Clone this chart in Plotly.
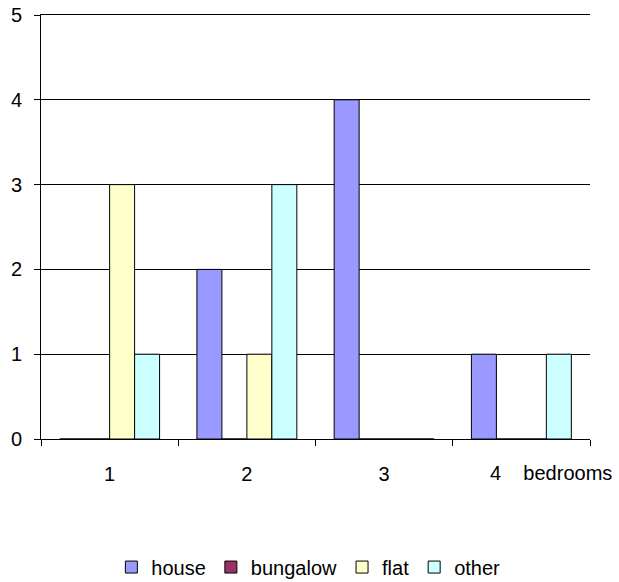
import plotly.graph_objects as go

categories = ["1", "2", "3", "4"]
axis_title = "bedrooms"
house = [0, 2, 4, 1]
bungalow = [0, 0, 0, 0]
flat = [3, 1, 0, 0]
other = [1, 3, 0, 1]
y_ticks = [0, 1, 2, 3, 4, 5]

series = [
    ("house", house, "#9999FF"),
    ("bungalow", bungalow, "#993366"),
    ("flat", flat, "#FFFFCC"),
    ("other", other, "#CCFFFF"),
]

FONT = dict(family="Liberation Sans, Arial, sans-serif", size=20, color="black")

fig = go.Figure()
for name, vals, col in series:
    fig.add_trace(go.Bar(
        name=name, x=categories, y=vals,
        marker=dict(color=col, line=dict(color="black", width=1)),
    ))

fig.update_layout(
    width=619, height=582,
    margin=dict(l=41, r=29, t=15, b=143, autoexpand=False),
    paper_bgcolor="white", plot_bgcolor="white",
    font=FONT,
    barmode="group", bargap=0.272, bargroupgap=0,
    showlegend=True,
    legend=dict(orientation="h", x=0.487, xanchor="center", y=-0.302, yanchor="middle",
                font=FONT, itemwidth=30, tracegroupgap=0, itemclick=False),
)
fig.update_xaxes(
    type="category", tickmode="array", tickvals=categories,
    ticktext=categories[:-1] + [""],
    tickson="boundaries", ticks="outside", ticklen=6, tickcolor="black", tickwidth=1,
    showline=True, mirror=True, linecolor="black", linewidth=1, showgrid=False,
    ticklabelstandoff=17,
)
fig.update_yaxes(
    range=[0, 5], tickvals=y_ticks,
    ticks="outside", ticklen=6, tickcolor="black", tickwidth=1,
    showline=True, linecolor="black", linewidth=1,
    showgrid=True, gridcolor="black", gridwidth=1, zeroline=False,
    ticklabelstandoff=8, ticklabeloverflow="allow",
)
fig.add_annotation(
    text=categories[-1] + "&nbsp;&nbsp;&nbsp;&nbsp;" + axis_title,
    xref="paper", yref="paper", x=1, y=0, xanchor="right", yanchor="middle",
    xshift=24, yshift=-34, showarrow=False, font=FONT,
)
fig.write_html("out.html", config={"displayModeBar": False},
               post_script="document.body.style.margin='0';")
